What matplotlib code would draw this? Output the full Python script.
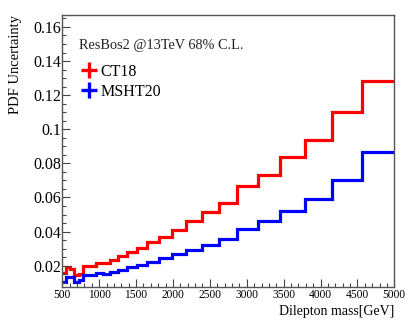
import matplotlib
matplotlib.use("Agg")
import matplotlib.pyplot as plt
from matplotlib.ticker import MultipleLocator, FuncFormatter
from matplotlib.lines import Line2D

# ---- data ----
edges = [500, 545, 600, 658, 720, 785, 870, 952, 1050, 1146, 1259, 1377, 1508,
         1648, 1810, 1991, 2176, 2389, 2619, 2872, 3151, 3451, 3792, 4151, 4558, 5000]
ct18 = [0.0155, 0.0192, 0.0182, 0.0145, 0.0152, 0.0198, 0.0200, 0.0218, 0.0213,
        0.0233, 0.0257, 0.0278, 0.0306, 0.0339, 0.0370, 0.0411, 0.0462, 0.0515,
        0.0568, 0.0667, 0.0734, 0.0838, 0.0935, 0.1102, 0.1284]
msht20 = [0.0106, 0.0132, 0.0136, 0.0106, 0.0116, 0.0148, 0.0145, 0.0155, 0.0150,
          0.0163, 0.0177, 0.0192, 0.0206, 0.0224, 0.0245, 0.0267, 0.0294, 0.0323,
          0.0357, 0.0413, 0.0464, 0.0523, 0.0591, 0.0703, 0.0865]
series_labels = ["CT18", "MSHT20"]
series_colors = ["#ff0000", "#0000ff"]
y_ticks = [0.02, 0.04, 0.06, 0.08, 0.1, 0.12, 0.14, 0.16]
x_ticks = [500, 1000, 1500, 2000, 2500, 3000, 3500, 4000, 4500, 5000]

plt.rcParams['font.family'] = ['Liberation Serif', 'DejaVu Serif']

W, H = 415, 322
fig = plt.figure(figsize=(W / 100, H / 100), dpi=100)
ax = fig.add_axes([62.3 / W, 1 - 286.7 / H, (394.3 - 62.3) / W, (286.7 - 15.3) / H])

for vals, col in zip([ct18, msht20], series_colors):
    ax.stairs(vals, edges, color=col, linewidth=2.3, baseline=None)

ax.set_xlim(500, 5000)
ax.set_ylim(0.00768, 0.16684)

ax.set_xticks(x_ticks)
ax.set_yticks(y_ticks)
ax.xaxis.set_minor_locator(MultipleLocator(100))
ax.yaxis.set_minor_locator(MultipleLocator(0.005))
ax.yaxis.set_major_formatter(FuncFormatter(lambda v, p: "%g" % round(v, 4)))

ax.tick_params(which='both', direction='in', top=False, right=False, colors='#444444')
ax.tick_params(axis='x', which='major', length=6, width=0.8, labelsize=8.3, pad=2, labelcolor='black')
ax.tick_params(axis='x', which='minor', length=3, width=0.8)
ax.tick_params(axis='y', which='major', length=6, width=0.8, labelsize=11.5, pad=1, labelcolor='black')
ax.tick_params(axis='y', which='minor', length=3, width=0.8)
for s in ax.spines.values():
    s.set_color('#555555')
    s.set_linewidth(1.0)

fig.text(15 / W, 1 - 15 / H, "PDF Uncertainty", rotation=90, ha='center', va='top', fontsize=10.5)
fig.text(394 / W, 1 - 312 / H, "Dilepton mass[GeV]", ha='right', va='center', fontsize=10)
fig.text(79 / W, 1 - 45 / H, "ResBos2 @13TeV 68% C.L.", ha='left', va='center', fontsize=10.3,
         color='#222222')

handles = [Line2D([], [], color=c, marker='+', markersize=12, markeredgewidth=2.4, linestyle='none')
           for c in series_colors]
fig.legend(handles, series_labels, loc='upper left', bbox_to_anchor=(81 / W, 1 - 64 / H),
           frameon=False, fontsize=11.5, handlelength=1.0, handletextpad=0.2,
           borderpad=0, borderaxespad=0, labelspacing=0.25)

fig.savefig("out.png", dpi=100)
